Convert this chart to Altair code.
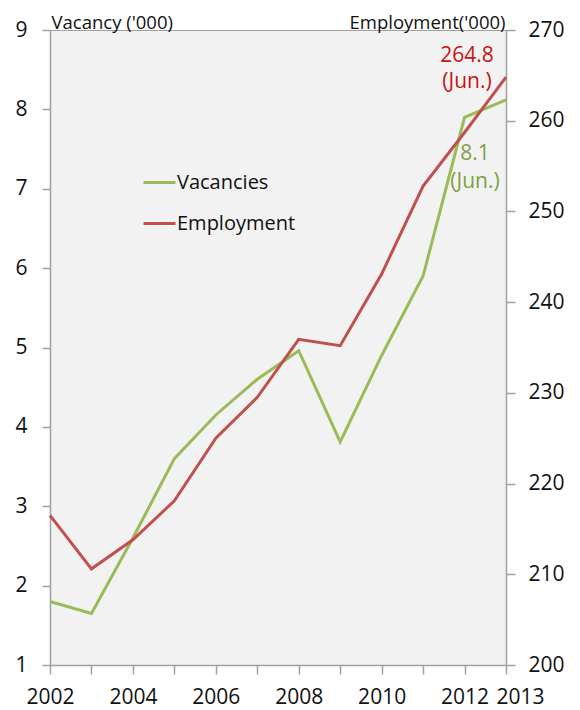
import altair as alt
import pandas as pd

# ---- data ----
years = list(range(2002, 2014))
vacancies = [1.8, 1.65, 2.6, 3.6, 4.15, 4.6, 4.96, 3.81, 4.9, 5.9, 7.9, 8.12]
employment = [216.5, 210.6, 213.8, 218.1, 225.0, 229.5, 235.9, 235.2, 243.1, 252.8, 258.7, 264.8]
series_names = ["Vacancies", "Employment"]
series_colors = ["#9BBB59", "#C0504D"]
x_ticks = years
vac_ticks = list(range(1, 10))
emp_ticks = list(range(200, 271, 10))
ann_years = [2013]
ann_vac_values = [8.1]
ann_vac_labels = ["8.1\n(Jun.)"]
ann_emp_values = [264.8]
ann_emp_labels = ["264.8\n(Jun.)"]

df_vac = pd.DataFrame({"year": years, "vac": vacancies, "series": series_names[0]})
df_emp = pd.DataFrame({"year": years, "emp": employment, "series": series_names[1]})
ann_vac = pd.DataFrame({"year": ann_years, "vac": ann_vac_values, "label": ann_vac_labels})
ann_emp = pd.DataFrame({"year": ann_years, "emp": ann_emp_values, "label": ann_emp_labels})

FONT = "Open Sans"
AXIS_COLOR = "#A0A0A0"

x_enc = alt.X(
    "year:Q",
    scale=alt.Scale(domain=[2002, 2013], nice=False, zero=False),
    axis=alt.Axis(
        values=x_ticks,
        format="d",
        title=None,
        grid=False,
        labelExpr="(datum.value % 2 == 0 || datum.value == 2013) ? datum.label : ''",
        labelOverlap=False,
        labelFlush=False,
        labelOffset={"condition": {"test": "datum.value == 2013", "value": 14}, "value": 0},
        tickSize=9,
        labelPadding=12,
        labelFontSize=21,
    ),
)

y_vac = alt.Y(
    "vac:Q",
    scale=alt.Scale(domain=[1, 9], nice=False, zero=False),
    axis=alt.Axis(
        values=vac_ticks,
        grid=False,
        tickSize=8,
        labelPadding=15,
        labelFontSize=21,
        title="Vacancy ('000)",
        titleAngle=0,
        titleX=1,
        titleY=-2,
        titleAlign="left",
        titleBaseline="alphabetic",
        titleFontSize=18.5,
        titleFontWeight="normal",
    ),
)

y_emp = alt.Y(
    "emp:Q",
    scale=alt.Scale(domain=[200, 270], nice=False, zero=False),
    axis=alt.Axis(
        orient="right",
        values=emp_ticks,
        grid=False,
        tickSize=9,
        labelPadding=13,
        labelFontSize=21,
        title="Employment('000)",
        titleAngle=0,
        titleX=-1,
        titleY=-2,
        titleAlign="right",
        titleBaseline="alphabetic",
        titleFontSize=18.5,
        titleFontWeight="normal",
    ),
)

color_enc = alt.Color(
    "series:N",
    scale=alt.Scale(domain=series_names, range=series_colors),
    legend=alt.Legend(title=None),
)

vac_line = alt.Chart(df_vac).mark_line(strokeWidth=3).encode(
    x=x_enc, y=y_vac, color=color_enc
)
vac_text = alt.Chart(ann_vac).mark_text(
    align="center", baseline="alphabetic", dx=-31, dy=59, fontSize=21,
    font=FONT, color="#7F9F45", lineBreak="\n", lineHeight=28,
).encode(x=x_enc, y=y_vac, text="label:N")

emp_line = alt.Chart(df_emp).mark_line(strokeWidth=3).encode(
    x=x_enc, y=y_emp, color=color_enc
)
emp_text = alt.Chart(ann_emp).mark_text(
    align="center", baseline="alphabetic", dx=-39, dy=-15, fontSize=21,
    font=FONT, color="#C81414", lineBreak="\n", lineHeight=26,
).encode(x=x_enc, y=y_emp, text="label:N")

left = alt.layer(vac_line, vac_text)
right = alt.layer(emp_line, emp_text)

chart = (
    alt.layer(left, right)
    .resolve_scale(y="independent")
    .properties(
        width=456,
        height=635,
        padding={"left": 42, "top": 22, "right": 66, "bottom": 46},
        autosize=alt.AutoSizeParams(type="none"),
        background="white",
    )
    .configure_view(fill="#F2F2F2", stroke=AXIS_COLOR, strokeWidth=1)
    .configure_axis(
        domainColor=AXIS_COLOR,
        tickColor=AXIS_COLOR,
        domainWidth=1.5,
        tickWidth=1.5,
        labelFont=FONT,
        titleFont=FONT,
        labelColor="#111111",
        titleColor="#111111",
    )
    .configure_legend(
        orient="none",
        legendX=92,
        legendY=135,
        symbolType="stroke",
        symbolSize=1024,
        symbolStrokeWidth=3,
        labelFont=FONT,
        labelFontSize=20,
        labelColor="#111111",
        labelOffset=0,
        rowPadding=13,
        padding=0,
    )
)

chart.save("out.html", embed_options={"renderer": "svg", "actions": False})
